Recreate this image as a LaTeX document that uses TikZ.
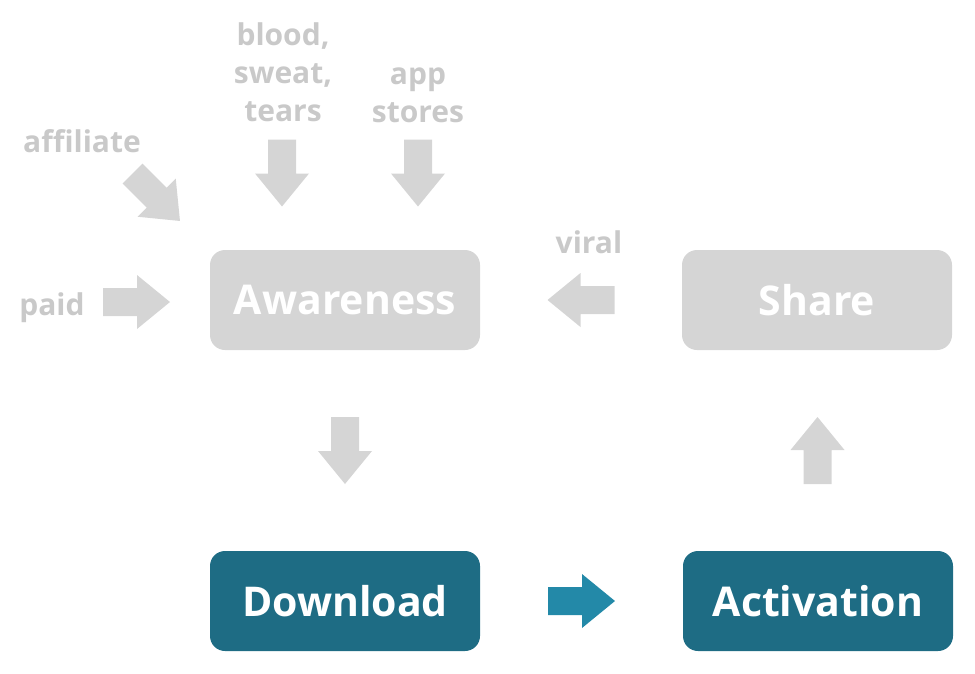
\documentclass[tikz,border=0pt]{standalone}
\usepackage{fontspec}
\setmainfont{Open Sans}
\definecolor{boxgray}{HTML}{D5D5D5}
\definecolor{labelgray}{HTML}{C9C9C9}
\definecolor{tealbox}{HTML}{1E6C84}
\definecolor{tealarrow}{HTML}{2389A8}
\tikzset{
  stagebox/.style={rectangle, rounded corners=15pt, minimum width=270pt, minimum height=100pt,
    inner sep=0pt, text=white, font=\fontsize{41}{41}\selectfont\bfseries},
  graybox/.style={stagebox, fill=boxgray},
  tealstage/.style={stagebox, fill=tealbox},
  sourcelabel/.style={text=labelgray, align=center, inner sep=0pt,
    font=\fontsize{30}{38}\selectfont\bfseries},
  blockarrow/.pic={\path[fill, pic actions] (-33.5,-14) -- (0.5,-14) -- (0.5,-27) -- (33.5,0)
    -- (0.5,27) -- (0.5,14) -- (-33.5,14) -- cycle;}
}
\begin{document}
\begin{tikzpicture}[x=1pt,y=-1pt]
\useasboundingbox (0,0) rectangle (975,673);
% stages
\node[graybox] (aw) at (345,300) {Awareness};
\node[graybox] (sh) at (817,300) {Share};
\node[tealstage] (dl) at (345,601) {Download};
\node[tealstage] (ac) at (818,601) {Activation};
% source labels (base = baseline of the last line)
\node[sourcelabel, anchor=base] (blood) at (283,121) {blood,\\sweat,\\tears};
\node[sourcelabel, anchor=base] (app) at (418,122) {app\\stores};
\node[sourcelabel, anchor=base] (aff) at (82,152) {affiliate};
\node[sourcelabel, anchor=base] (paid) at (52,315) {paid};
\node[sourcelabel, anchor=base] (viral) at (589,253) {viral};
% arrow anchors
\coordinate (bloodarrow) at (282,173);
\coordinate (apparrow) at (418,173);
\coordinate (affarrow) at (156.3,197.3);
\coordinate (paidarrow) at (136.5,302);
\path (aw.south) -- (dl.north) coordinate[midway] (m1);
\path (dl.east) -- (ac.west) coordinate[midway] (m2);
\path (ac.north) -- (sh.south) coordinate[midway] (m3);
\path (sh.west) -- (aw.east) coordinate[midway] (m4);
% arrows
\pic[rotate=-90, fill=boxgray] at (bloodarrow) {blockarrow};
\pic[rotate=-90, fill=boxgray] at (apparrow) {blockarrow};
\pic[rotate=-45, fill=boxgray] at (affarrow) {blockarrow};
\pic[fill=boxgray] at (paidarrow) {blockarrow};
\pic[rotate=-90, fill=boxgray] at (m1) {blockarrow};
\pic[fill=tealarrow] at (m2) {blockarrow};
\pic[rotate=90, fill=boxgray] at (m3) {blockarrow};
\pic[rotate=180, fill=boxgray] at (m4) {blockarrow};
\end{tikzpicture}
\end{document}
